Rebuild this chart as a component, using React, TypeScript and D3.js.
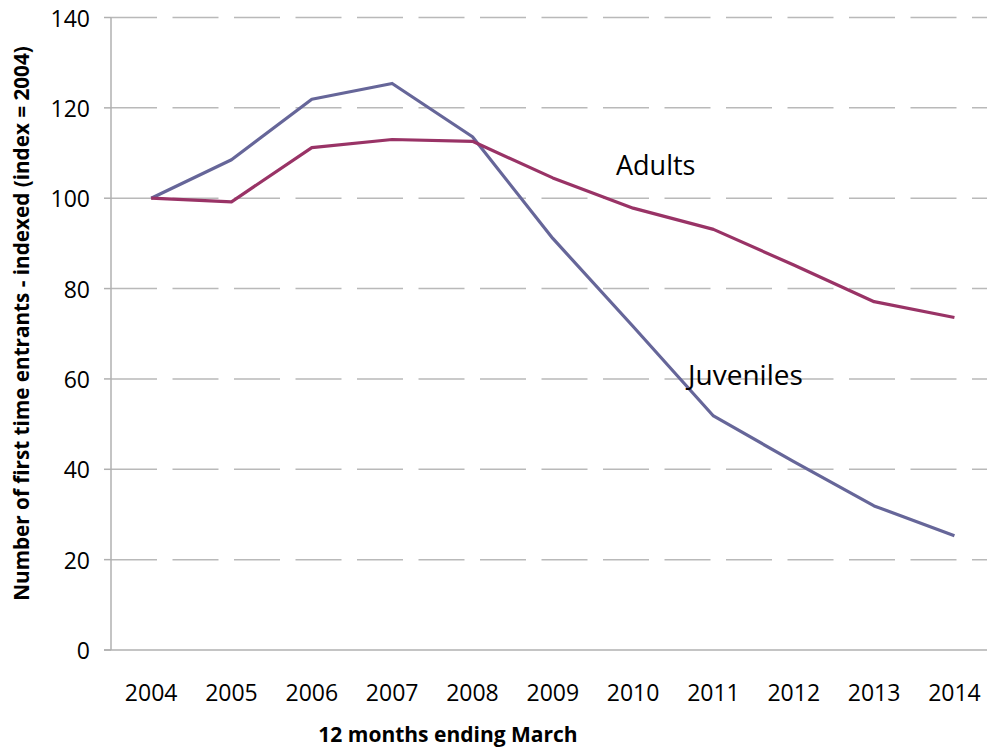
import React from "react";
import * as d3 from "d3";

const years = ["2004", "2005", "2006", "2007", "2008", "2009", "2010", "2011", "2012", "2013", "2014"];
const juveniles = [100, 108.5, 121.9, 125.4, 113.6, 91.1, 71.6, 51.8, 41.7, 31.9, 25.3];
const adults = [100, 99.2, 111.2, 113.0, 112.6, 104.5, 97.8, 93.1, 85.2, 77.1, 73.6];
const yTicks = [0, 20, 40, 60, 80, 100, 120, 140];

const W = 987;
const H = 749;
const left = 111;
const right = 994.6;
const top = 17.5;
const bottom = 650;

const FONT = "'Open Sans', sans-serif";

export default function App() {
  const x = d3.scaleBand<string>().domain(years).range([left, right]);
  const cx = (y: string) => (x(y) as number) + x.bandwidth() / 2;
  const y = d3.scaleLinear().domain([0, 140]).range([bottom, top]);

  const line = d3
    .line<number>()
    .x((_, i) => cx(years[i]))
    .y((v) => y(v));

  return (
    <svg
      width={W}
      height={H}
      style={{ position: "absolute", left: 0, top: 0, background: "#fff" }}
      fontFamily={FONT}
    >
      {/* horizontal gridlines and y ticks */}
      {yTicks.map((t) => (
        <g key={t}>
          {t > 0 && (
            <line
              x1={left}
              x2={right}
              y1={y(t)}
              y2={y(t)}
              stroke="#b9b9b9"
              strokeWidth={1.5}
              strokeDasharray="46 15.5"
            />
          )}
          <line x1={104} x2={left} y1={y(t)} y2={y(t)} stroke="#b0b0b0" strokeWidth={1.5} />
          <text
            x={90}
            y={y(t)}
            textAnchor="end"
            dominantBaseline="central"
            fontSize={23}
            fill="#000"
          >
            {t}
          </text>
        </g>
      ))}

      {/* axes */}
      <line x1={left} x2={left} y1={top} y2={bottom} stroke="#b0b0b0" strokeWidth={1.5} />
      <line x1={104} x2={right} y1={bottom} y2={bottom} stroke="#b0b0b0" strokeWidth={1.5} />

      {/* x tick labels */}
      {years.map((yr) => (
        <text
          key={yr}
          x={cx(yr)}
          y={692}
          textAnchor="middle"
          dominantBaseline="central"
          fontSize={23}
          fill="#000"
        >
          {yr}
        </text>
      ))}

      {/* series */}
      <path d={line(juveniles) || ""} fill="none" stroke="#666699" strokeWidth={3.2} strokeLinejoin="round" />
      <path d={line(adults) || ""} fill="none" stroke="#993366" strokeWidth={3.2} strokeLinejoin="round" />

      {/* series labels */}
      <text x={616} y={175} fontSize={27} fill="#000">Adults</text>
      <text x={688} y={385} fontSize={28} fill="#000">Juveniles</text>

      {/* axis titles */}
      <text x={448} y={741.5} textAnchor="middle" fontSize={21} fontWeight="bold" fill="#000">
        12 months ending March
      </text>
      <text
        transform={`translate(29, 323.5) rotate(-90)`}
        textAnchor="middle"
        fontSize={20.7}
        fontWeight="bold"
        fill="#000"
      >
        Number of first time entrants - indexed (index = 2004)
      </text>
    </svg>
  );
}
